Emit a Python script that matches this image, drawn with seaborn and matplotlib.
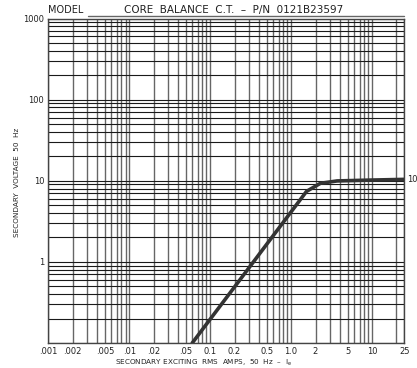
import numpy as np
import matplotlib
matplotlib.use('Agg')
import matplotlib.pyplot as plt
import matplotlib.ticker as mticker
from matplotlib.lines import Line2D
import seaborn as sns
import pandas as pd

# -- данные кривой намагничивания --
amps = [0.06, 0.3, 1.55, 2.3, 3.7, 10, 25]
volts = [0.1, 0.84, 7.4, 9.3, 9.95, 10.2, 10.4]

x_ticks = [0.001, 0.002, 0.005, 0.01, 0.02, 0.05, 0.1, 0.2, 0.5, 1.0, 2, 5, 10, 25]
x_labels = ['.001', '.002', '.005', '.01', '.02', '.05', '0.1', '0.2',
            '0.5', '1.0', '2', '5', '10', '25']
y_ticks = [1, 10, 100, 1000]
y_labels = ['1', '10', '100', '1000']

sns.set_style('white')
plt.rcParams['font.family'] = ['DejaVu Sans']

fig = plt.figure(figsize=(4.17, 3.68), dpi=100)
ax = fig.add_axes([48.3 / 417, 25 / 368, 356 / 417, 324.5 / 368])

# сетка логарифмической бумаги
for dec in [0.001, 0.01, 0.1, 1, 10]:
    for k in range(1, 10):
        v = dec * k
        if v <= 25:
            ax.axvline(v, color='#666666', lw=1.0, zorder=1)
ax.axvline(25, color='#666666', lw=1.0, zorder=1)
for dec in [0.1, 1, 10, 100]:
    for k in range(1, 10):
        ax.axhline(dec * k, color='#1a1a1a', lw=0.8, zorder=1)
ax.axhline(1000, color='#1a1a1a', lw=0.8, zorder=1)

df = pd.DataFrame({'amps': amps, 'volts': volts})
sns.lineplot(data=df, x='amps', y='volts', ax=ax, color='#333333',
             lw=2.6, zorder=3, sort=False)

ax.set_xscale('log')
ax.set_yscale('log')
ax.set_xlim(0.001, 25)
ax.set_ylim(0.1, 1000)
ax.xaxis.set_major_locator(mticker.FixedLocator(x_ticks))
ax.xaxis.set_major_formatter(mticker.FixedFormatter(x_labels))
ax.xaxis.set_minor_locator(mticker.NullLocator())
ax.yaxis.set_major_locator(mticker.FixedLocator(y_ticks))
ax.yaxis.set_major_formatter(mticker.FixedFormatter(y_labels))
ax.yaxis.set_minor_locator(mticker.NullLocator())
ax.tick_params(length=0, labelsize=6, pad=3, colors='#222222')

for s in ax.spines.values():
    s.set_color('#444444')
    s.set_linewidth(1.0)

ax.set_xlabel('SECONDARY EXCITING  RMS  AMPS,  50  Hz  \u2013  I$_\\mathrm{e}$',
              fontsize=5.2, color='#222222')
ax.xaxis.set_label_coords(0.437, -0.046)
ax.set_ylabel('SECONDARY  VOLTAGE  50  Hz', fontsize=5.2, color='#222222')
ax.yaxis.set_label_coords(-0.08, 0.496)

# заголовок в стиле бланка
ax.text(0.0, 1.012, 'MODEL', transform=ax.transAxes, fontsize=7,
        ha='left', va='bottom', color='#222222')
ax.text(0.52, 1.012, 'CORE  BALANCE  C.T.  \u2013  P/N  0121B23597',
        transform=ax.transAxes, fontsize=7.5, ha='center', va='bottom',
        color='#222222')
fig.add_artist(Line2D([88 / 417, 404 / 417], [1 - 15.5 / 368, 1 - 15.5 / 368],
                      color='#666666', lw=1.0))

ax.text(26.8, 10.5, '100', fontsize=6, ha='left', va='center',
        color='#222222', clip_on=False)

plt.savefig('out.png', dpi=100)
plt.close()
